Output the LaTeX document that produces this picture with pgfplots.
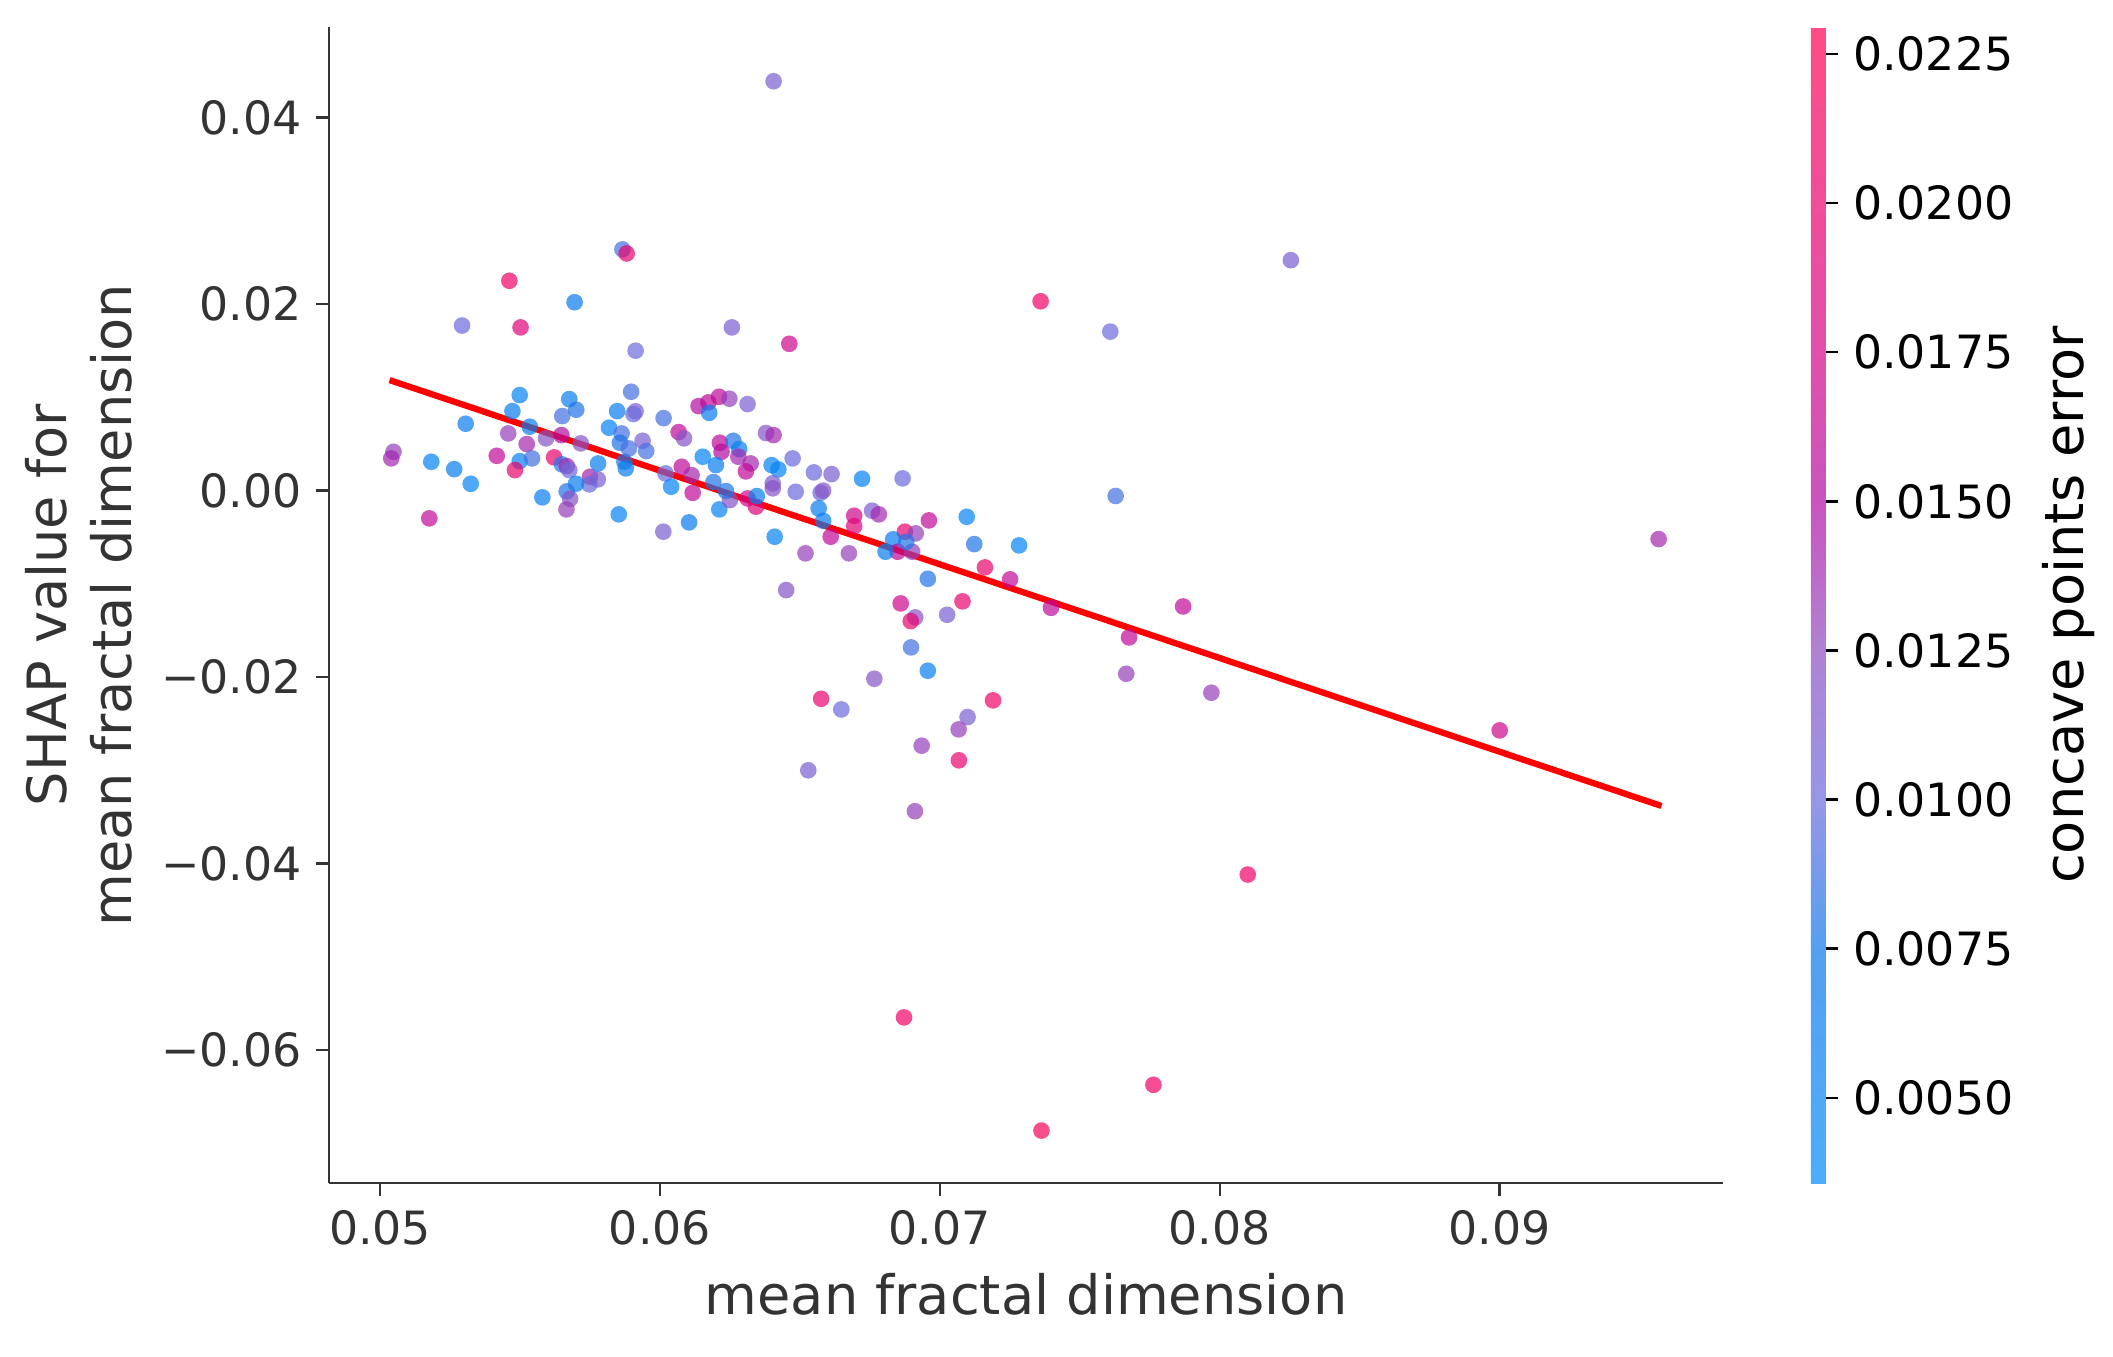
\documentclass[border=0pt]{standalone}
\usepackage{fontspec}
\setmainfont{DejaVu Sans}
\usepackage{pgfplots}
\pgfplotsset{compat=1.18}
\usepackage{pgfplotstable}
\definecolor{axgray}{HTML}{333333}

% x = mean fractal dimension, y = SHAP value, c = concave points error
\pgfplotstableread{
x y c
0.05462 0.02250 0.021
0.05695 0.02020 0.007
0.05293 0.01770 0.010
0.05502 0.01750 0.019
0.05913 0.01500 0.010
0.05499 0.01024 0.005
0.05676 0.00981 0.006
0.05701 0.00867 0.008
0.05651 0.00799 0.009
0.05897 0.01060 0.009
0.05847 0.00852 0.006
0.05913 0.00850 0.011
0.05905 0.00820 0.010
0.05473 0.00852 0.006
0.05306 0.00717 0.007
0.05458 0.00613 0.013
0.05535 0.00685 0.006
0.05524 0.00499 0.014
0.05593 0.00560 0.012
0.05648 0.00595 0.015
0.05717 0.00506 0.012
0.05818 0.00674 0.005
0.05863 0.00613 0.009
0.05857 0.00513 0.008
0.05889 0.00452 0.009
0.05938 0.00534 0.011
0.05951 0.00424 0.009
0.06013 0.00777 0.009
0.06067 0.00627 0.016
0.06086 0.00560 0.012
0.06138 0.00906 0.015
0.05048 0.00416 0.013
0.05040 0.00345 0.014
0.05183 0.00309 0.005
0.05265 0.00230 0.006
0.05324 0.00073 0.005
0.05417 0.00373 0.016
0.05499 0.00316 0.005
0.05543 0.00345 0.009
0.05482 0.00220 0.020
0.05622 0.00356 0.020
0.05650 0.00281 0.008
0.05667 0.00263 0.014
0.05676 0.00220 0.010
0.05750 0.00148 0.014
0.05778 0.00120 0.011
0.05748 0.00066 0.010
0.05700 0.00073 0.006
0.05667 -0.00009 0.008
0.05679 -0.00088 0.012
0.05666 -0.00202 0.013
0.05779 0.00291 0.006
0.05580 -0.00073 0.006
0.05853 -0.00255 0.005
0.05176 -0.00298 0.016
0.06012 -0.00441 0.011
0.06104 -0.00341 0.007
0.05873 0.00309 0.008
0.05878 0.00238 0.006
0.06020 0.00184 0.010
0.06040 0.00041 0.005
0.06078 0.00255 0.016
0.06117 -0.00024 0.016
0.06113 0.00166 0.014
0.06257 0.01750 0.011
0.06462 0.01574 0.017
0.07360 0.02030 0.021
0.06173 0.00946 0.016
0.06211 0.01006 0.016
0.06248 0.00985 0.013
0.06313 0.00928 0.011
0.06176 0.00834 0.006
0.06379 0.00617 0.012
0.06406 0.00595 0.014
0.06214 0.00513 0.016
0.06262 0.00534 0.008
0.06283 0.00445 0.006
0.06220 0.00416 0.015
0.06280 0.00363 0.014
0.06324 0.00291 0.014
0.06307 0.00206 0.016
0.06153 0.00363 0.005
0.06200 0.00273 0.006
0.06191 0.00091 0.008
0.06212 -0.00202 0.005
0.06250 -0.00102 0.012
0.06236 -0.00005 0.008
0.06313 -0.00084 0.017
0.06343 -0.00173 0.019
0.06346 -0.00059 0.006
0.06399 0.00273 0.005
0.06423 0.00227 0.005
0.06474 0.00345 0.010
0.06403 0.00077 0.011
0.06403 0.00024 0.012
0.06485 -0.00013 0.010
0.06550 0.00195 0.010
0.06613 0.00177 0.011
0.06722 0.00127 0.005
0.06867 0.00131 0.010
0.06574 -0.00024 0.010
0.06583 0.00000 0.012
0.06567 -0.00191 0.006
0.06583 -0.00324 0.006
0.06410 -0.00495 0.005
0.06610 -0.00495 0.016
0.06694 -0.00270 0.017
0.06694 -0.00381 0.019
0.06758 -0.00216 0.011
0.06782 -0.00255 0.014
0.06961 -0.00320 0.016
0.07096 -0.00281 0.005
0.06875 -0.00441 0.020
0.06914 -0.00459 0.013
0.06833 -0.00523 0.006
0.06849 -0.00656 0.016
0.06901 -0.00656 0.013
0.06806 -0.00656 0.006
0.06880 -0.00550 0.008
0.07123 -0.00574 0.008
0.07283 -0.00588 0.005
0.06520 -0.00673 0.013
0.06675 -0.00673 0.013
0.06957 -0.00946 0.008
0.07161 -0.00824 0.020
0.07251 -0.00952 0.016
0.06451 -0.01067 0.012
0.06860 -0.01210 0.017
0.07081 -0.01188 0.020
0.06912 -0.01360 0.012
0.06896 -0.01400 0.020
0.07026 -0.01332 0.011
0.06897 -0.01682 0.009
0.06957 -0.01932 0.006
0.06766 -0.02018 0.012
0.06576 -0.02233 0.020
0.06648 -0.02347 0.010
0.07190 -0.02250 0.021
0.07099 -0.02429 0.011
0.07067 -0.02561 0.013
0.06935 -0.02736 0.013
0.07068 -0.02893 0.020
0.06530 -0.03000 0.011
0.06406 0.04390 0.011
0.05866 0.02587 0.009
0.05881 0.02543 0.020
0.08254 0.02471 0.011
0.07609 0.01705 0.010
0.07628 -0.00058 0.009
0.09568 -0.00520 0.014
0.07397 -0.01257 0.016
0.07676 -0.01575 0.016
0.07666 -0.01965 0.013
0.07869 -0.01243 0.016
0.07970 -0.02168 0.013
0.09000 -0.02572 0.017
0.08100 -0.04118 0.021
0.06872 -0.05650 0.021
0.07763 -0.06373 0.021
0.07363 -0.06864 0.022
0.06911 -0.03439 0.013
}\shapdata

\begin{document}
\begin{tikzpicture}
\path[use as bounding box] (-78.9pt,-41.7pt) rectangle (428.1pt,283.9pt);
\begin{axis}[
  scale only axis,
  width=334.6pt, height=277.4pt,
  xmin=0.04817, xmax=0.09799,
  ymin=-0.07428, ymax=0.04971,
  scaled ticks=false,
  axis x line*=bottom, axis y line*=left,
  axis line style={axgray, line width=0.6pt},
  tick align=outside,
  major tick length=3pt,
  tick style={axgray, line width=0.6pt},
  xtick={0.05,0.06,0.07,0.08,0.09},
  xticklabels={0.05,0.06,0.07,0.08,0.09},
  ytick={-0.06,-0.04,-0.02,0,0.02,0.04},
  yticklabels={−0.06,−0.04,−0.02,0.00,0.02,0.04},
  ticklabel style={font=\fontsize{11}{13}\selectfont, text=axgray},
  label style={font=\fontsize{13}{15.6}\selectfont, text=axgray},
  xlabel={mean fractal dimension},
  ylabel={SHAP value for\\mean fractal dimension},
  ylabel style={align=center},
  colormap={shap}{rgb255(0)=(0,138,250) rgb255(203)=(12,119,234) rgb255(332)=(107,105,219) rgb255(461)=(141,77,191) rgb255(590)=(177,12,162) rgb255(719)=(212,5,134) rgb255(1000)=(255,0,82)},
  point meta min=0.00357, point meta max=0.02295,
  colorbar right,
  colorbar shift/.style={xshift=20.7pt},
  colorbar style={
    scale only axis,
    width=3.6pt,
    scaled ticks=false,
    axis line style={draw=none},
    every axis plot post/.append style={opacity=0.7},
    ytick={0.005,0.0075,0.01,0.0125,0.015,0.0175,0.02,0.0225},
    yticklabels={0.0050,0.0075,0.0100,0.0125,0.0150,0.0175,0.0200,0.0225},
    yticklabel style={font=\fontsize{11}{13}\selectfont, text=black},
    ylabel={concave points error},
    ylabel style={font=\fontsize{13}{15.6}\selectfont, text=black},
    tick style={black, line width=0.6pt},
    major tick length=3pt,
    tick align=outside,
    ytick pos=right,
  },
]
\addplot[scatter, only marks, mark=*, mark size=2pt, point meta=explicit,
  scatter/use mapped color={draw opacity=0, fill=mapped color, fill opacity=0.7}]
  table[x=x, y=y, meta=c] {\shapdata};
\addplot[red, line width=1.5pt] coordinates {(0.05034,0.01185) (0.09578,-0.03382)};
\end{axis}
\end{tikzpicture}
\end{document}
